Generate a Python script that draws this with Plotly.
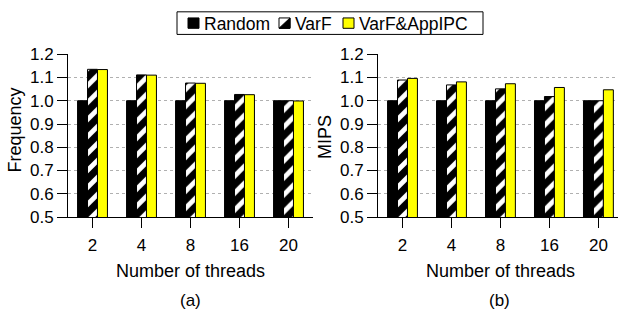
import plotly.graph_objects as go

threads = ["2", "4", "8", "16", "20"]
series_names = ["Random", "VarF", "VarF&AppIPC"]
freq_random = [1.0, 1.0, 1.0, 1.0, 1.0]
freq_varf = [1.135, 1.111, 1.076, 1.027, 1.0]
freq_varf_app = [1.134, 1.110, 1.075, 1.026, 0.999]
mips_random = [1.0, 1.0, 1.0, 1.0, 1.0]
mips_varf = [1.089, 1.068, 1.051, 1.018, 1.0]
mips_varf_app = [1.096, 1.081, 1.073, 1.057, 1.047]
y_ticks = [0.5, 0.6, 0.7, 0.8, 0.9, 1.0, 1.1, 1.2]

W, H = 618, 325
FONT = "Liberation Sans, Arial, sans-serif"
YELLOW = "#ffff00"

fig = go.Figure()

def add_panel(xa, ya, vals):
    r, v, a = vals
    fig.add_trace(go.Bar(x=threads, y=r, name=series_names[0], xaxis=xa, yaxis=ya,
                         marker=dict(color="black", line=dict(color="black", width=1)),
                         showlegend=False))
    fig.add_trace(go.Bar(x=threads, y=v, name=series_names[1], xaxis=xa, yaxis=ya,
                         marker=dict(color="black", line=dict(color="black", width=1),
                                     pattern=dict(shape="/", fgcolor="white", bgcolor="black",
                                                  fillmode="replace", size=12, solidity=0.4)),
                         showlegend=False))
    fig.add_trace(go.Bar(x=threads, y=a, name=series_names[2], xaxis=xa, yaxis=ya,
                         marker=dict(color=YELLOW, line=dict(color="black", width=1)),
                         showlegend=False))

add_panel("x", "y", (freq_random, freq_varf, freq_varf_app))
add_panel("x2", "y2", (mips_random, mips_varf, mips_varf_app))

ydom = [1 - 221 / H, 1 - 48 / H]
common_y = dict(range=[0.5, 1.2], tickvals=y_ticks, tickformat=".1f",
                showgrid=True, gridcolor="#b0b0b0", griddash="dot", gridwidth=1,
                showline=True, linecolor="black", linewidth=1,
                ticks="outside", ticklen=10, tickcolor="black", tickwidth=1,
                tickfont=dict(size=17, color="black"), zeroline=False, domain=ydom)
common_x = dict(type="category", showgrid=False, showline=True, linecolor="black", linewidth=1,
                ticks="outside", ticklen=10, tickcolor="black", tickwidth=1,
                tickfont=dict(size=17, color="black"), zeroline=False, ticklabelstandoff=3)

fig.update_layout(
    width=W, height=H,
    margin=dict(l=0, r=0, t=0, b=0),
    paper_bgcolor="white", plot_bgcolor="white",
    font=dict(family=FONT, color="black"),
    barmode="group", bargap=0.39, bargroupgap=0,
    showlegend=False,
    xaxis=dict(common_x, domain=[68 / W, 313 / W], range=[-0.5, 4.5], anchor="y"),
    yaxis=dict(common_y, anchor="x"),
    xaxis2=dict(common_x, domain=[378 / W, 1.0], range=[-0.5, 4.4], anchor="y2"),
    yaxis2=dict(common_y, anchor="x2"),
)

def px(x):
    return x / W

def py(y):
    return 1 - y / H

def ann(text, x, y, size, angle=0, xanchor="center"):
    fig.add_annotation(text=text, x=px(x), y=py(y), xref="paper", yref="paper",
                       showarrow=False, xanchor=xanchor, yanchor="middle",
                       font=dict(size=size, color="black", family=FONT), textangle=angle)

ann("Number of threads", 190.5, 278, 18)
ann("Number of threads", 500.5, 278, 18)
ann("(a)", 190.5, 310, 17)
ann("(b)", 499, 310, 17)
ann("Frequency", 15, 129, 18, -90)
ann("MIPS", 325, 136, 18, -90)

# custom legend box
fig.add_shape(type="rect", xref="paper", yref="paper", x0=px(177), x1=px(483), y0=py(27), y1=py(3),
              line=dict(color="black", width=1), fillcolor="white", layer="above")
my0, my1 = 9.5, 20.5
# Random marker
fig.add_shape(type="rect", xref="paper", yref="paper", x0=px(188), x1=px(199), y0=py(my1), y1=py(my0),
              line=dict(color="black", width=1), fillcolor="black", layer="above")
ann(series_names[0], 202, 16, 17.5, xanchor="left")
# VarF marker (square split diagonally)
fig.add_shape(type="rect", xref="paper", yref="paper", x0=px(279), x1=px(290), y0=py(my1), y1=py(my0),
              line=dict(color="black", width=1), fillcolor="white", layer="above")
fig.add_shape(type="path", xref="paper", yref="paper",
              path=f"M {px(279)} {py(my1)} L {px(290)} {py(my0)} L {px(290)} {py(my1)} Z",
              line=dict(color="black", width=1), fillcolor="black", layer="above")
ann(series_names[1], 293, 16, 17.5, xanchor="left")
# VarF&AppIPC marker
fig.add_shape(type="rect", xref="paper", yref="paper", x0=px(343), x1=px(354), y0=py(my1), y1=py(my0),
              line=dict(color="black", width=1), fillcolor=YELLOW, layer="above")
ann(series_names[2], 357, 16, 17.5, xanchor="left")

fig.write_html("out.html")
